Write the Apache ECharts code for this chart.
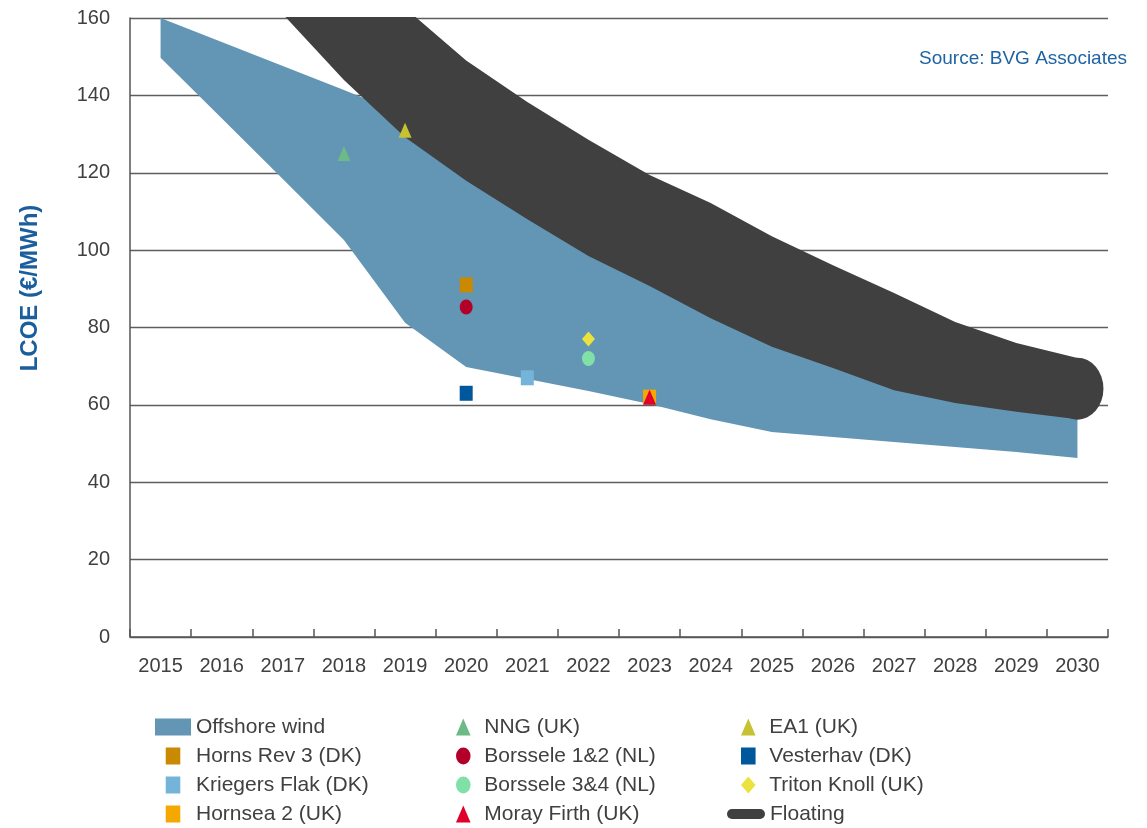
<!DOCTYPE html>
<html>
<head>
<meta charset="utf-8">
<script src="https://cdn.jsdelivr.net/npm/echarts@6/dist/echarts.min.js"></script>
<style>html,body{margin:0;padding:0;background:#fff}#c{width:1147px;height:828px}</style>
</head>
<body>
<div id="c"></div>
<script>
// ---------- data ----------
const years = ['2015','2016','2017','2018','2019','2020','2021','2022','2023','2024','2025','2026','2027','2028','2029','2030'];
const offshoreLow  = [149.7,134.1,118.4,102.6,81.2,69.8,66.7,63.6,60.2,56.3,53.0,51.7,50.4,49.1,47.8,46.3];
const offshoreHigh = [160,153.8,147.6,141.4,135,125,115,106,98,90,83,76,71,66,62,60];
const floatingLow  = ['-','-',161,144,129.2,117.9,108,98.5,90.7,82.4,75,69.5,63.8,60.5,58.2,56.3];
const floatingHigh = ['-','-',190,175,162.6,149,138.3,128.5,119.4,112.2,103.6,96.1,88.9,81.4,76,72.1];
const floatingEnd  = ['2030', 64.2];
const projectNames  = ['NNG (UK)','EA1 (UK)','Horns Rev 3 (DK)','Borssele 1&2 (NL)','Vesterhav (DK)','Kriegers Flak (DK)','Borssele 3&4 (NL)','Triton Knoll (UK)','Hornsea 2 (UK)','Moray Firth (UK)'];
const projectYears  = ['2018','2019','2020','2020','2020','2021','2022','2022','2023','2023'];
const projectValues = [125,131,91,85.3,63,67,72,77,62,62];

// ---------- styles ----------
const FONT = "'Liberation Sans',Arial,sans-serif";
const SQUARE = 'path://M0,0H12V14H0Z';
const CIRCLE = 'path://M6,0A6,7 0 1 1 6,14A6,7 0 1 1 6,0Z';
const TRI = 'path://M6,0L12,14H0Z';
const DIAMOND = 'path://M6,0L12,7L6,14L0,7Z';
const CAPSULE = 'path://M5,0H33A5,5 0 0 1 33,10H5A5,5 0 0 1 5,0Z';
const projectStyle = {
  'NNG (UK)': [TRI, '#6cba86'],
  'EA1 (UK)': [TRI, '#c6c232'],
  'Horns Rev 3 (DK)': [SQUARE, '#c98900'],
  'Borssele 1&2 (NL)': [CIRCLE, '#b3002b'],
  'Vesterhav (DK)': [SQUARE, '#00579b'],
  'Kriegers Flak (DK)': [SQUARE, '#74b4d9'],
  'Borssele 3&4 (NL)': [CIRCLE, '#80e0a7'],
  'Triton Knoll (UK)': [DIAMOND, '#ebe23d'],
  'Hornsea 2 (UK)': [SQUARE, '#f5a800'],
  'Moray Firth (UK)': [TRI, '#e0002b']
};
const BLUE = '#6296b4', DARK = '#404040';

const diff = (hi, lo) => hi.map((v, i) => (v === '-' || lo[i] === '-') ? '-' : +(v - lo[i]).toFixed(2));

const series = [
  {name:'offLow', type:'line', stack:'off', data:offshoreLow, symbol:'none', silent:true,
   lineStyle:{opacity:0}, areaStyle:{opacity:0}, z:1},
  {name:'Offshore wind', type:'line', stack:'off', data:diff(offshoreHigh, offshoreLow), symbol:'none', silent:true,
   color:BLUE, lineStyle:{opacity:0}, areaStyle:{color:BLUE, opacity:1}, z:1},
  {name:'floatLow', type:'line', stack:'flt', data:floatingLow, symbol:'none', silent:true,
   lineStyle:{opacity:0}, areaStyle:{opacity:0}, z:2},
  {name:'Floating', type:'line', stack:'flt', data:diff(floatingHigh, floatingLow), symbol:'none', silent:true,
   color:DARK, lineStyle:{opacity:0}, areaStyle:{color:DARK, opacity:1}, z:2},
  {name:'floatCap', type:'scatter', data:[floatingEnd], symbol:'path://M1,0A1,1 0 1 1 1,2A1,1 0 1 1 1,0Z',
   symbolSize:[52,62], itemStyle:{color:DARK, opacity:1}, silent:true, z:3}
];
projectNames.forEach((n, i) => {
  const st = projectStyle[n];
  series.push({name:n, type:'scatter', data:[[projectYears[i], projectValues[i]]],
    symbol: st[0], symbolSize:[13,15], color: st[1], itemStyle:{color: st[1], opacity:1}, z:5+i});
});

const legendText = {fontFamily: FONT, fontSize: 21, color: '#404040', lineHeight: 22};
const mkLegend = (left, top, w, h, items) => ({
  orient:'vertical', left, top, itemWidth:w, itemHeight:h, itemGap:7, padding:0,
  symbolKeepAspect:true, selectedMode:false, textStyle:legendText, data:items
});
const icon = n => ({name:n, icon: projectStyle[n][0]});

const option = {
  animation:false,
  backgroundColor:'#fff',
  grid:{left:130, right:39, top:18, bottom:191, containLabel:false},
  xAxis:{type:'category', data:years, boundaryGap:true,
    axisLine:{show:true, lineStyle:{color:'#555', width:1.5}},
    axisTick:{show:true, inside:true, length:8, interval:0, lineStyle:{color:'#555', width:1.5}},
    axisLabel:{interval:0, margin:19, fontFamily:FONT, fontSize:20, color:'#404040'},
    splitLine:{show:false}},
  yAxis:{type:'value', min:0, max:160, interval:20,
    axisLine:{show:true, lineStyle:{color:'#555', width:1.5}},
    axisTick:{show:false},
    axisLabel:{margin:20, fontFamily:FONT, fontSize:20, color:'#404040'},
    splitLine:{show:true, lineStyle:{color:'#5e5e5e', width:1.4}}},
  legend:[
    mkLegend(155, 716, 36, 17, [{name:'Offshore wind', icon:'rect'}, icon('Horns Rev 3 (DK)'), icon('Kriegers Flak (DK)'), icon('Hornsea 2 (UK)')]),
    mkLegend(456, 716, 32, 17, [icon('NNG (UK)'), icon('Borssele 1&2 (NL)'), icon('Borssele 3&4 (NL)'), icon('Moray Firth (UK)')]),
    mkLegend(741, 716, 32, 17, [icon('EA1 (UK)'), icon('Vesterhav (DK)'), icon('Triton Knoll (UK)')]),
    mkLegend(727, 803, 38, 12, [{name:'Floating', icon:CAPSULE}])
  ],
  graphic:[
    {type:'text', left:919, top:49, style:{text:'Source: BVG Associates', font:"19px " + FONT, fill:'#1e63a3'}},
    {type:'text', x:30, y:288, rotation:Math.PI/2, style:{text:'LCOE (€/MWh)', font:"bold 24px 'Liberation Sans',Arial,sans-serif", fill:'#1b5e9e', align:'center', verticalAlign:'middle'}}
  ],
  series
};
const chart = echarts.init(document.getElementById('c'), null, {renderer:'canvas'});
chart.setOption(option);
</script>
</body>
</html>
